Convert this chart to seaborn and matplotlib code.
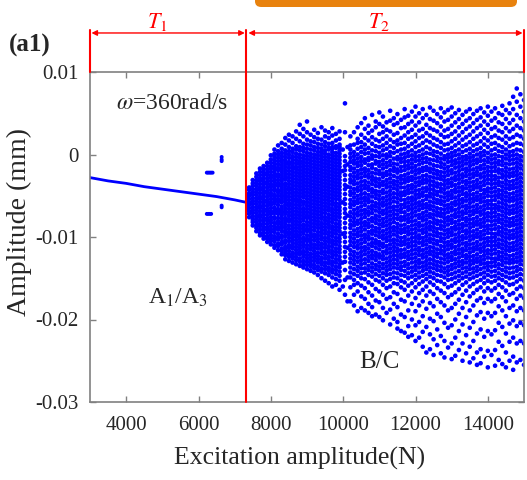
import matplotlib
matplotlib.use("Agg")
import matplotlib.pyplot as plt
import numpy as np
import pandas as pd
import seaborn as sns
from matplotlib.patches import FancyBboxPatch

# ---------------- data ----------------
# periodic branch (A1/A3), amplitude in mm
branch_x = [3000, 3500, 4000, 4500, 5000, 5500, 6000, 6500, 7000, 7320]
branch_y = [-0.0028, -0.0032, -0.0035, -0.0039, -0.0042, -0.0045, -0.0048, -0.0051, -0.0055, -0.0058]

# isolated points near 6300-6650 N
iso_x = [6230, 6270, 6310, 6350, 6390, 6230, 6270, 6310, 6350, 6640, 6640, 6640, 6640, 6640]
iso_y = [-0.0022, -0.0022, -0.0022, -0.0022, -0.0022, -0.0072, -0.0072, -0.0072, -0.0072,
         -0.0003, -0.0006, -0.0008, -0.0062, -0.0064]

# chaotic region (B/C): excitation columns and sampled amplitudes (units of 1e-4 mm)
cloud_a_x = [7350, 7400, 7500, 7600, 7700, 7800, 7900, 8000]
cloud_a_y = [
    [-66, -62, -58, -54, -50],
    [-76, -72, -69, -65, -61, -58, -54, -50, -47, -43, -40],
    [-86, -82, -79, -75, -71, -68, -64, -60, -57, -53, -49, -46, -42, -38, -35, -31],
    [-93, -89, -86, -82, -78, -75, -71, -67, -64, -60, -56, -53, -49, -45, -42, -38, -34, -31, -27, -23],
    [-98, -95, -91, -87, -84, -80, -76, -73, -69, -65, -62, -58, -54, -51, -47, -43, -40, -36, -32, -29, -25, -21, -17],
    [-102, -99, -95, -91, -88, -84, -80, -77, -73, -69, -66, -62, -58, -55, -51, -47, -44, -40, -36, -33, -29, -25, -22, -18, -14],
    [-106, -102, -99, -95, -91, -88, -84, -80, -77, -73, -69, -66, -62, -58, -55, -51, -47, -44, -40, -36, -33, -29, -25, -22, -18, -14, -10],
    [-109, -105, -102, -98, -94, -91, -87, -83, -80, -76, -72, -69, -65, -61, -58, -54, -50, -47, -43, -39, -36, -32, -28, -25, -21, -17, -14, -10, -6, -1],
]

cloud_b_x = [8100, 8200, 8300, 8400, 8500, 8600, 8700, 8800, 8900, 9000,
             9100, 9200, 9300, 9400, 9500, 9600, 9700, 9800, 9900]
cloud_b_y = [
    [-113, -110, -105, -101, -99, -94, -90, -87, -83, -78, -76, -71, -68, -64, -59, -56, -52, -49, -44, -41, -37, -33, -30, -26, -22, -18, -15, -11, -7, -3, 1, 6],
    [-116, -111, -108, -103, -100, -96, -91, -88, -84, -81, -77, -72, -69, -66, -61, -57, -54, -50, -46, -43, -38, -35, -31, -27, -24, -19, -16, -12, -8, -4, 0, 4, 11],
    [-121, -117, -114, -109, -106, -101, -98, -93, -89, -86, -82, -78, -74, -70, -67, -63, -58, -55, -51, -48, -44, -40, -36, -32, -29, -25, -21, -17, -13, -9, -6, -2, 2, 7, 14],
    [-127, -122, -119, -115, -112, -107, -104, -99, -95, -92, -88, -84, -80, -77, -72, -69, -65, -61, -57, -53, -50, -46, -42, -38, -35, -30, -27, -23, -19, -15, -11, -7, -3, 1, 5, 12, 20],
    [-129, -124, -121, -117, -113, -110, -105, -101, -97, -94, -90, -86, -81, -78, -74, -70, -66, -62, -59, -55, -51, -47, -43, -40, -36, -32, -28, -24, -20, -16, -12, -9, -4, 0, 4, 9, 17, 24],
    [-131, -126, -122, -119, -114, -111, -107, -103, -99, -95, -91, -87, -83, -79, -75, -72, -68, -64, -60, -56, -52, -48, -45, -41, -37, -33, -29, -25, -21, -17, -14, -10, -6, -2, 3, 7, 14, 22],
    [-133, -128, -124, -120, -116, -112, -108, -104, -100, -97, -93, -89, -85, -81, -77, -73, -69, -65, -61, -57, -54, -50, -46, -42, -38, -34, -30, -26, -22, -18, -15, -11, -7, -3, 1, 6, 10, 19, 28],
    [-135, -130, -126, -121, -118, -114, -110, -106, -102, -98, -94, -90, -86, -82, -78, -74, -70, -66, -62, -58, -55, -51, -47, -43, -39, -35, -31, -27, -23, -19, -15, -11, -8, -4, 0, 5, 9, 16, 25, 36],
    [-137, -133, -129, -124, -120, -117, -112, -108, -104, -101, -96, -92, -88, -85, -80, -76, -72, -68, -65, -60, -57, -52, -49, -45, -41, -37, -33, -29, -25, -21, -17, -13, -9, -5, -1, 4, 8, 13, 22, 31],
    [-139, -134, -130, -126, -122, -118, -114, -110, -105, -102, -98, -93, -90, -86, -82, -77, -74, -70, -66, -62, -58, -54, -50, -46, -42, -38, -34, -30, -26, -22, -18, -14, -10, -6, -2, 2, 7, 12, 18, 27, 40],
    [-141, -136, -132, -128, -124, -120, -115, -111, -107, -103, -99, -95, -91, -87, -83, -79, -75, -71, -67, -63, -59, -55, -51, -47, -43, -39, -35, -31, -27, -23, -19, -15, -11, -7, -3, 1, 6, 11, 16, 24],
    [-143, -138, -134, -129, -125, -121, -117, -113, -109, -104, -100, -97, -92, -88, -84, -80, -76, -72, -68, -64, -60, -56, -52, -48, -44, -40, -36, -32, -28, -24, -20, -16, -12, -8, -4, 0, 5, 9, 15, 21, 30],
    [-146, -140, -136, -131, -127, -123, -119, -114, -110, -106, -102, -98, -94, -89, -85, -81, -77, -73, -69, -65, -61, -57, -53, -49, -45, -41, -37, -33, -29, -25, -21, -17, -13, -9, -5, -1, 3, 8, 13, 19, 26],
    [-150, -142, -138, -133, -129, -125, -120, -116, -112, -108, -103, -99, -95, -91, -87, -83, -78, -74, -70, -66, -62, -58, -54, -50, -46, -42, -38, -34, -30, -26, -22, -18, -14, -10, -6, -2, 2, 4, 7, 12, 18, 33],
    [-153, -144, -139, -135, -131, -126, -122, -118, -113, -109, -105, -101, -96, -92, -88, -84, -80, -76, -71, -67, -63, -59, -55, -51, -47, -43, -39, -35, -31, -27, -23, -19, -15, -11, -7, -3, 1, 5, 10, 15, 22, 29],
    [-156, -146, -141, -137, -132, -128, -124, -119, -115, -111, -106, -102, -98, -94, -89, -85, -81, -77, -73, -68, -64, -60, -56, -52, -48, -44, -40, -36, -32, -28, -24, -20, -16, -12, -8, -4, 0, 6, 8, 13, 20, 27],
    [-160, -149, -143, -139, -134, -130, -125, -121, -117, -112, -108, -104, -99, -95, -91, -87, -82, -78, -74, -70, -66, -61, -57, -53, -49, -45, -41, -37, -33, -29, -25, -21, -17, -13, -9, -5, -1, 3, 7, 9, 14, 23, 32],
    [-158, -151, -145, -140, -136, -131, -127, -122, -118, -114, -109, -105, -101, -96, -92, -88, -84, -79, -75, -71, -67, -63, -59, -54, -50, -46, -42, -38, -34, -30, -26, -22, -18, -14, -10, -6, -2, 2, 8, 10, 17, 25],
    [-164, -153, -147, -142, -137, -133, -128, -124, -119, -115, -111, -106, -102, -98, -93, -89, -85, -81, -76, -72, -68, -64, -60, -55, -51, -47, -43, -39, -35, -31, -27, -23, -19, -15, -11, -7, -3, 1, 5, 9, 12, 19, 28],
]

# periodic window near 10000 N
window_x = [9990, 10050, 10120]
window_y = [
    [-160, -131, -96, -58, -20, 6],
    [-170, -152, -140, -130, -124, -118, -112, -106, -100, -95, -89, -83, -77, -71, -66, -60, -54, -48, -42, -37, -31, -25, -19, -14, -8, -2, 27, 62],
    [-178, -149, -113, -74, -39, -12, 9],
]

cloud_c_x = [10200, 10300, 10400, 10500, 10600, 10700, 10800, 10900, 11000, 11100, 11200, 11300,
             11400, 11500, 11600, 11700, 11800, 11900, 12000, 12100, 12200, 12300, 12400, 12500]
cloud_c_y = [
    [22, 11, 6, 1, -4, -9, -15, -19, -25, -30, -34, -40, -45, -49, -55, -60, -64, -70, -75, -80, -85, -89, -95, -100, -105, -110, -116, -121, -126, -131, -137, -143, -149, -161, -178],
    [27, 12, 3, -2, -7, -11, -17, -22, -27, -32, -36, -42, -47, -52, -57, -61, -67, -72, -77, -82, -86, -92, -97, -102, -107, -112, -118, -123, -128, -133, -139, -145, -152, -158, -170, -183],
    [33, 19, 14, 7, 0, -5, -10, -14, -20, -25, -29, -35, -40, -44, -50, -55, -59, -65, -70, -74, -80, -84, -90, -95, -99, -105, -110, -114, -120, -125, -130, -136, -141, -147, -156, -166, -190],
    [38, 24, 15, 9, 3, -3, -8, -13, -18, -23, -28, -33, -38, -43, -48, -53, -58, -63, -68, -73, -78, -83, -88, -93, -98, -103, -108, -113, -118, -123, -128, -133, -138, -144, -150, -159, -172, -186],
    [44, 31, 20, 12, 6, 1, -6, -10, -17, -21, -26, -32, -37, -41, -47, -52, -56, -61, -67, -71, -76, -82, -86, -91, -97, -101, -106, -112, -116, -121, -127, -132, -138, -143, -151, -162, -175, -189],
    [35, 26, 17, 8, 2, -4, -7, -13, -19, -24, -28, -34, -39, -43, -49, -54, -58, -64, -69, -73, -79, -84, -88, -94, -99, -103, -109, -114, -119, -124, -129, -135, -140, -146, -155, -167, -181, -192],
    [48, 29, 21, 13, 5, -1, -5, -12, -16, -22, -27, -31, -36, -42, -46, -51, -57, -62, -66, -71, -77, -81, -87, -92, -96, -102, -107, -111, -117, -122, -126, -132, -137, -142, -148, -158, -171, -185, -196],
    [40, 33, 18, 10, 4, -2, -8, -11, -18, -23, -29, -33, -38, -44, -48, -53, -59, -63, -68, -74, -78, -83, -89, -93, -98, -104, -108, -113, -119, -123, -128, -134, -139, -145, -152, -163, -177, -194],
    [51, 37, 25, 16, 9, 2, -3, -9, -14, -20, -24, -30, -35, -39, -45, -50, -55, -60, -65, -70, -75, -80, -85, -90, -95, -100, -106, -110, -115, -121, -125, -131, -136, -141, -147, -154, -166, -179, -197],
    [46, 34, 27, 19, 11, 5, -1, -7, -12, -17, -23, -27, -33, -37, -43, -47, -53, -58, -62, -68, -72, -78, -83, -87, -93, -98, -102, -108, -112, -118, -123, -127, -133, -138, -144, -150, -158, -170, -186, -201],
    [39, 30, 22, 14, 7, 0, -4, -10, -15, -21, -25, -31, -36, -40, -46, -51, -56, -61, -66, -71, -76, -81, -86, -91, -96, -101, -105, -111, -116, -120, -126, -131, -136, -141, -146, -153, -162, -175, -192],
    [53, 41, 28, 18, 10, 3, -2, -8, -13, -19, -24, -29, -34, -39, -44, -49, -54, -59, -64, -69, -74, -79, -84, -89, -94, -99, -104, -109, -114, -119, -124, -129, -134, -139, -145, -151, -160, -173, -188, -206],
    [44, 36, 24, 15, 8, 2, -5, -11, -16, -20, -26, -32, -36, -41, -47, -52, -57, -63, -67, -72, -77, -82, -88, -92, -97, -103, -107, -112, -117, -122, -127, -132, -137, -143, -149, -156, -167, -181, -199],
    [49, 38, 26, 17, 12, 4, -3, -6, -12, -18, -22, -28, -33, -38, -43, -48, -53, -58, -63, -68, -73, -78, -84, -89, -94, -99, -104, -109, -114, -118, -123, -128, -133, -138, -144, -150, -157, -169, -185, -203, -211],
    [42, 32, 20, 13, 6, 0, -5, -9, -15, -20, -26, -30, -35, -40, -46, -50, -55, -61, -66, -70, -76, -80, -86, -91, -95, -101, -106, -110, -116, -121, -125, -131, -136, -140, -146, -153, -161, -176, -194, -214],
    [55, 45, 33, 23, 14, 7, 1, -4, -9, -14, -19, -25, -30, -34, -40, -45, -49, -55, -60, -64, -70, -75, -79, -85, -90, -94, -100, -105, -109, -115, -120, -124, -130, -135, -141, -147, -155, -164, -178, -197, -216],
    [47, 37, 27, 19, 10, 3, -2, -8, -13, -17, -23, -28, -32, -38, -43, -47, -53, -58, -63, -67, -73, -78, -82, -88, -93, -97, -103, -108, -112, -118, -123, -127, -133, -138, -144, -150, -159, -171, -189, -208, -221],
    [52, 40, 30, 21, 13, 5, -1, -6, -11, -16, -21, -27, -31, -37, -41, -46, -52, -56, -61, -66, -71, -76, -81, -86, -91, -96, -101, -106, -111, -116, -121, -126, -131, -137, -142, -148, -156, -166, -181, -200, -219],
    [58, 46, 35, 24, 16, 9, 2, -3, -8, -14, -19, -24, -29, -34, -39, -44, -49, -54, -59, -64, -69, -74, -80, -85, -90, -95, -100, -105, -110, -115, -120, -125, -130, -135, -140, -146, -152, -161, -174, -190, -207, -226],
    [50, 39, 29, 20, 11, 4, -2, -7, -12, -18, -22, -28, -33, -37, -43, -48, -52, -58, -62, -67, -73, -77, -83, -87, -92, -98, -102, -107, -113, -117, -122, -128, -132, -137, -143, -149, -157, -168, -183, -203, -222],
    [55, 44, 31, 22, 14, 6, 0, -5, -10, -16, -20, -26, -31, -35, -41, -46, -50, -56, -61, -65, -71, -76, -80, -86, -91, -95, -101, -106, -110, -116, -121, -125, -131, -136, -141, -147, -154, -164, -178, -196, -215, -233],
    [48, 36, 26, 17, 9, 2, -4, -9, -15, -19, -25, -30, -34, -40, -44, -50, -54, -60, -64, -69, -74, -79, -84, -89, -94, -99, -104, -109, -114, -119, -124, -129, -134, -139, -145, -151, -160, -171, -187, -209, -240],
    [57, 43, 32, 23, 15, 7, 1, -6, -11, -17, -21, -27, -32, -37, -42, -47, -51, -57, -62, -66, -72, -76, -82, -87, -91, -97, -102, -106, -112, -117, -121, -127, -132, -137, -142, -148, -155, -166, -180, -199, -218, -236],
    [53, 41, 30, 20, 12, 4, -1, -7, -13, -18, -23, -28, -33, -38, -43, -48, -53, -58, -63, -68, -73, -78, -83, -88, -93, -98, -103, -108, -113, -118, -123, -128, -133, -138, -144, -150, -158, -169, -184, -202, -224, -243],
]

cloud_d_x = [12600, 12700, 12800, 12900, 13000, 13100, 13200, 13300, 13400, 13500, 13600, 13700, 13800,
             13900, 14000, 14100, 14200, 14300, 14400, 14500, 14600, 14700, 14800, 14900, 15000]
cloud_d_y = [
    [49, 38, 28, 18, 10, 3, -3, -8, -14, -20, -24, -29, -35, -39, -45, -49, -55, -59, -65, -70, -74, -80, -84, -90, -95, -99, -105, -109, -115, -120, -124, -130, -135, -140, -146, -153, -162, -175, -193, -212, -231],
    [56, 45, 34, 24, 15, 8, 1, -5, -10, -15, -21, -26, -30, -36, -41, -45, -51, -56, -60, -66, -71, -75, -81, -86, -90, -96, -101, -105, -111, -116, -120, -126, -131, -136, -141, -147, -154, -165, -179, -197, -220, -241],
    [51, 40, 29, 21, 12, 5, -2, -6, -12, -17, -22, -27, -32, -37, -42, -47, -52, -57, -62, -67, -72, -77, -82, -87, -92, -97, -102, -107, -112, -117, -122, -127, -132, -138, -143, -149, -157, -168, -183, -204, -226, -246],
    [54, 42, 31, 22, 13, 6, 0, -4, -9, -15, -20, -25, -31, -35, -40, -46, -50, -55, -61, -65, -70, -76, -80, -85, -91, -95, -100, -106, -110, -115, -121, -125, -130, -136, -141, -146, -152, -161, -173, -189, -210, -234],
    [57, 46, 35, 25, 16, 8, 2, -3, -8, -13, -19, -23, -29, -34, -38, -44, -49, -53, -59, -64, -68, -74, -79, -83, -89, -94, -98, -104, -109, -113, -119, -124, -128, -134, -139, -145, -151, -159, -170, -186, -207, -229, -248],
    [50, 39, 28, 19, 11, 4, -1, -7, -11, -16, -22, -27, -31, -37, -42, -46, -52, -57, -61, -67, -72, -76, -82, -87, -91, -97, -102, -106, -112, -117, -121, -127, -132, -137, -143, -149, -156, -167, -181, -200, -222, -244],
    [54, 43, 33, 23, 14, 6, 0, -5, -10, -15, -20, -25, -30, -35, -40, -45, -50, -55, -60, -65, -70, -75, -80, -85, -90, -95, -100, -105, -110, -115, -120, -125, -130, -135, -141, -147, -153, -163, -176, -193, -214, -237],
    [48, 37, 27, 18, 10, 3, -3, -8, -13, -18, -24, -28, -33, -39, -43, -48, -54, -58, -63, -69, -73, -78, -84, -88, -93, -99, -103, -108, -114, -118, -123, -129, -133, -138, -144, -150, -158, -170, -186, -206, -229, -250],
    [52, 41, 31, 21, 12, 5, -2, -6, -11, -17, -21, -26, -32, -36, -41, -47, -51, -56, -62, -66, -71, -77, -81, -86, -92, -96, -101, -107, -111, -116, -122, -126, -131, -137, -142, -148, -155, -165, -179, -197, -219, -241],
    [55, 44, 34, 24, 15, 7, 1, -4, -9, -14, -19, -24, -29, -34, -39, -44, -49, -54, -59, -64, -69, -74, -79, -84, -89, -94, -99, -104, -109, -114, -119, -124, -129, -134, -139, -145, -151, -160, -172, -189, -210, -233, -252],
    [49, 38, 28, 19, 11, 4, -2, -7, -12, -18, -23, -27, -33, -38, -42, -48, -53, -57, -63, -68, -72, -78, -83, -87, -93, -98, -102, -108, -113, -117, -123, -128, -132, -138, -143, -149, -157, -168, -183, -203, -226, -247],
    [53, 42, 32, 22, 13, 6, 0, -6, -10, -16, -21, -25, -31, -36, -40, -46, -51, -55, -61, -66, -70, -76, -81, -85, -91, -96, -100, -106, -111, -115, -121, -126, -130, -136, -141, -147, -154, -164, -177, -195, -217, -240, -255],
    [56, 45, 35, 25, 16, 8, 2, -3, -8, -14, -18, -24, -28, -34, -39, -43, -49, -54, -58, -64, -69, -73, -79, -84, -88, -94, -99, -103, -109, -114, -118, -124, -129, -133, -139, -145, -152, -161, -174, -191, -212, -236, -253],
    [51, 40, 30, 20, 12, 4, -1, -7, -12, -17, -22, -27, -32, -37, -43, -47, -52, -57, -62, -67, -72, -77, -82, -87, -92, -97, -102, -107, -112, -117, -122, -127, -132, -137, -143, -149, -156, -166, -180, -199, -221, -245],
    [58, 47, 36, 26, 17, 9, 2, -4, -9, -15, -20, -25, -30, -35, -41, -45, -50, -56, -60, -65, -71, -75, -80, -86, -90, -95, -101, -105, -110, -116, -120, -125, -131, -135, -140, -146, -153, -162, -175, -192, -214, -238, -258],
    [52, 41, 31, 21, 13, 5, -1, -6, -11, -16, -21, -26, -31, -36, -41, -46, -51, -56, -61, -66, -71, -76, -81, -86, -91, -96, -101, -106, -111, -116, -121, -126, -131, -136, -142, -148, -155, -165, -178, -196, -218, -243],
    [56, 44, 33, 23, 14, 7, 0, -5, -10, -15, -20, -26, -30, -35, -40, -45, -50, -55, -61, -65, -70, -75, -80, -85, -90, -96, -100, -105, -110, -115, -120, -126, -130, -135, -141, -147, -153, -162, -175, -192, -213, -237, -256],
    [50, 39, 29, 20, 11, 4, -2, -8, -12, -18, -22, -28, -33, -37, -43, -48, -52, -58, -63, -67, -73, -78, -82, -88, -93, -97, -103, -108, -112, -118, -123, -127, -133, -138, -144, -150, -158, -169, -184, -204, -227, -249],
    [59, 48, 37, 27, 18, 9, 3, -3, -8, -13, -19, -24, -28, -34, -39, -44, -49, -54, -59, -64, -69, -74, -79, -84, -89, -94, -99, -104, -109, -114, -119, -124, -129, -134, -140, -146, -152, -161, -173, -189, -209, -232, -254],
    [54, 43, 32, 22, 14, 6, 0, -5, -11, -16, -21, -26, -31, -36, -41, -46, -51, -56, -61, -66, -71, -76, -81, -86, -91, -96, -101, -106, -111, -116, -121, -126, -131, -137, -142, -148, -155, -165, -178, -196, -217, -240, -258],
    [62, 50, 38, 28, 19, 10, 3, -2, -7, -12, -18, -23, -27, -33, -38, -42, -48, -53, -57, -63, -68, -72, -78, -83, -87, -93, -98, -102, -108, -113, -117, -123, -128, -132, -138, -144, -150, -158, -170, -186, -205, -227, -250],
    [70, 55, 42, 31, 21, 12, 4, -1, -6, -11, -17, -22, -26, -32, -37, -41, -47, -52, -56, -62, -67, -71, -77, -82, -86, -92, -97, -101, -107, -112, -116, -122, -127, -131, -137, -143, -149, -157, -168, -183, -201, -222, -245, -261],
    [80, 64, 48, 35, 24, 14, 6, 0, -5, -10, -15, -20, -25, -30, -35, -40, -45, -50, -55, -60, -65, -70, -75, -80, -85, -90, -95, -100, -105, -110, -115, -120, -125, -130, -136, -141, -147, -154, -163, -175, -190, -208, -229, -252],
    [73, 58, 44, 32, 22, 13, 5, -2, -7, -12, -17, -23, -28, -33, -38, -43, -48, -53, -58, -63, -68, -73, -78, -83, -88, -93, -98, -103, -108, -113, -118, -123, -128, -133, -139, -145, -151, -160, -171, -186, -204, -226, -249],
    [66, 52, 40, 29, 19, 11, 3, -3, -8, -14, -19, -24, -29, -34, -39, -44, -49, -54, -59, -64, -69, -74, -79, -84, -89, -94, -99, -104, -109, -114, -119, -124, -129, -134, -140, -146, -153, -162, -174, -189, -207, -229, -255],
]

x_ticks = [4000, 6000, 8000, 10000, 12000, 14000]
x_ticklabels = ["4000", "6000", "8000", "10000", "12000", "14000"]
y_ticks = [-0.03, -0.02, -0.01, 0.0, 0.01]
y_ticklabels = ["-0.03", "-0.02", "-0.01", "0", "0.01"]
x_limits = (3000, 15000)
y_limits = (-0.03, 0.01)
boundary_x = 7320  # T1 / T2 boundary

# ---------------- build table ----------------
rows = []
for xs, ys in [(cloud_a_x, cloud_a_y), (cloud_b_x, cloud_b_y), (window_x, window_y),
               (cloud_c_x, cloud_c_y), (cloud_d_x, cloud_d_y)]:
    for xv, col in zip(xs, ys):
        for v in col:
            rows.append((xv, v / 10000.0))
cloud = pd.DataFrame(rows, columns=["force", "amp"])
iso = pd.DataFrame({"force": iso_x, "amp": iso_y})
branch = pd.DataFrame({"force": branch_x, "amp": branch_y})

# ---------------- style ----------------
sns.set_theme(style="ticks")
plt.rcParams["font.family"] = ["Liberation Serif", "DejaVu Serif"]
plt.rcParams["mathtext.fontset"] = "stix"
plt.rcParams["axes.unicode_minus"] = False

fig = plt.figure(figsize=(5.27, 4.80), dpi=100)
W, H = 527.0, 480.0
ax = fig.add_axes([90 / W, 78 / H, 434 / W, 330 / H])

sns.scatterplot(data=cloud, x="force", y="amp", s=11, color="#0000ff", linewidth=0,
                edgecolor="none", ax=ax, legend=False)
sns.scatterplot(data=iso, x="force", y="amp", s=8, color="#0000ff", linewidth=0,
                edgecolor="none", ax=ax, legend=False)
sns.lineplot(data=branch, x="force", y="amp", color="#0000ff", lw=2, ax=ax)

ax.set_xlim(*x_limits)
ax.set_ylim(*y_limits)
ax.set_xticks(x_ticks)
ax.set_xticklabels(x_ticklabels)
ax.set_yticks(y_ticks)
ax.set_yticklabels(y_ticklabels)
ax.tick_params(direction="in", length=4, width=1, color="#808080", top=True, right=True,
               labelsize=15)
ax.tick_params(axis="x", pad=10)
ax.tick_params(axis="y", pad=8)
for sp in ax.spines.values():
    sp.set_color("#808080")
    sp.set_linewidth(1.2)

ax.set_xlabel("Excitation amplitude(N)", fontsize=18.5)
ax.set_ylabel("Amplitude (mm)", fontsize=20)
ax.xaxis.set_label_coords(0.484, -0.137)
ax.yaxis.set_label_coords(-0.134, 0.545)

# red region markers
y_top = 0.0151
y_arrow = 0.01473
ax.plot([boundary_x, boundary_x], [y_limits[0], y_top], color="red", lw=1.5, clip_on=False, zorder=5)
ax.plot([x_limits[0], x_limits[0]], [y_limits[1], y_top], color="red", lw=1.5, clip_on=False, zorder=5)
ax.plot([x_limits[1], x_limits[1]], [y_limits[1], y_top], color="red", lw=1.5, clip_on=False, zorder=5)
ax.annotate("", xy=(x_limits[0] + 40, y_arrow), xytext=(boundary_x - 40, y_arrow),
            arrowprops=dict(arrowstyle="<|-|>", color="red", lw=1, shrinkA=0, shrinkB=0,
                            mutation_scale=8), annotation_clip=False)
ax.annotate("", xy=(boundary_x + 60, y_arrow), xytext=(x_limits[1] - 40, y_arrow),
            arrowprops=dict(arrowstyle="<|-|>", color="red", lw=1, shrinkA=0, shrinkB=0,
                            mutation_scale=8), annotation_clip=False)
ax.text(4850, 0.0161, r"$T_1$", color="red", fontsize=16, ha="center", va="center", clip_on=False)
ax.text(11000, 0.0161, r"$T_2$", color="red", fontsize=16, ha="center", va="center", clip_on=False)

# annotations
ax.text(5260, 0.0062, r"$\omega$=360rad/s", fontsize=17, ha="center", va="center")
ax.text(5425, -0.0174, r"A$_1$/A$_3$", fontsize=17, ha="center", va="center")
ax.text(10990, -0.0251, "B/C", fontsize=18, ha="center", va="center")
fig.text(9 / W, 1 - 45 / H, "(a1)", fontsize=18, fontweight="bold", ha="left", va="center")

# orange banner (cut at top edge)
fig.patches.append(FancyBboxPatch((255 / W, 1 - 7 / H), 262 / W, 0.06,
                                  boxstyle="round,pad=0,rounding_size=0.012",
                                  transform=fig.transFigure, fc="#E8820E", ec="none"))

fig.savefig("out.png", dpi=100)
